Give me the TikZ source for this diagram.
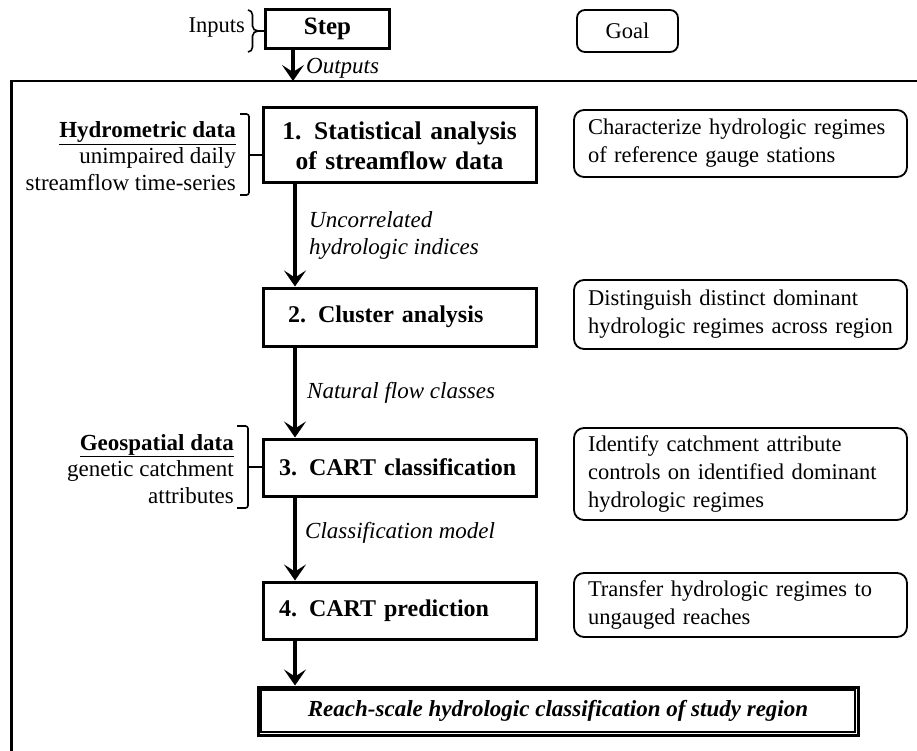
\documentclass[tikz,border=0pt]{standalone}
\usepackage{fontspec}
\setmainfont{Liberation Serif}
\usetikzlibrary{arrows.meta,calc}
\begin{document}
\begin{tikzpicture}[x=1pt,y=-1pt,
  stepbox/.style={draw, line width=3pt, minimum width=273pt, inner xsep=16pt, inner ysep=0pt,
    text width=241pt, align=left, font=\fontsize{24}{30}\selectfont\bfseries},
  goalbox/.style={draw, rounded corners=10pt, line width=1.8pt, minimum width=333pt, inner xsep=14pt, inner ysep=0pt,
    text width=305pt, align=left, font=\fontsize{22.5}{28}\selectfont},
  datatext/.style={anchor=east, align=right, inner sep=0pt, font=\fontsize{23}{26.5}\selectfont},
  flowlabel/.style={anchor=west, align=left, inner sep=0pt, font=\fontsize{23}{27}\selectfont\itshape},
  flow/.style={line width=3.4pt, -{Stealth[length=16pt,width=22pt,inset=7pt]}},
  bracket/.style={line width=1.6pt, rounded corners=2.5pt},
  tick/.style={line width=1.6pt}
]
\useasboundingbox (0,0) rectangle (917,751);

% legend
\node[draw, line width=3pt, minimum width=124pt, minimum height=39pt, inner sep=0pt,
  font=\fontsize{25}{30}\selectfont\bfseries] (st) at (327.5,29) {Step};
\node[draw, rounded corners=8pt, line width=1.8pt, minimum width=101pt, minimum height=42pt, inner sep=0pt,
  font=\fontsize{22.5}{28}\selectfont] (goal) at (627.5,31) {Goal};
\node[anchor=east, inner sep=0pt, font=\fontsize{22.5}{28}\selectfont] (inp) at (245,28) {Inputs};
\coordinate (ibr) at (258,31);
\draw[tick] (248,10) to[out=0,in=90] (252.5,15) -- (252.5,26) to[out=-90,in=180] (ibr)
  to[out=180,in=90] (252.5,36) -- (252.5,47) to[out=-90,in=0] (248,52);
\draw[tick] (ibr) -- (st.west |- ibr);
\coordinate (sax) at (293,0);
\coordinate (frtl) at (11.5,81);
\draw[line width=2.2pt] (917,81) -- (frtl) -- (11.5,751);
\draw[flow] (st.south -| sax) -- (frtl -| sax);
\node[flowlabel] (outl) at (306,68) {Outputs};

% steps
\node[stepbox, align=center, minimum height=75pt, font=\fontsize{25.5}{30}\selectfont\bfseries] (b1) at (399.5,145.5) {\mbox{1. Statistical analysis}\\of streamflow data};
\node[stepbox, minimum height=58pt] (b2) at (399.5,317) {\mbox{\hspace*{9pt}2. Cluster analysis}};
\node[stepbox, minimum height=57pt] (b3) at (399.5,467.5) {\mbox{3. CART classification}};
\node[stepbox, minimum height=57pt] (b4) at (399.5,610.5) {\mbox{4. CART prediction}};

\node[draw, line width=3pt, minimum width=600pt, minimum height=48pt, inner sep=0pt,
  font=\fontsize{23}{27}\selectfont\bfseries\itshape] (fin) at (558,711)
  {Reach-scale hydrologic classification of study region};
\draw[line width=1.2pt] ([shift={(4.5pt,-4.5pt)}]fin.north west) rectangle ([shift={(-4.5pt,4.5pt)}]fin.south east);

% arrows
\coordinate (ax) at (295,0);
\draw[flow] (b1.south -| ax) -- (b2.north -| ax);
\draw[flow] (b2.south -| ax) -- (b3.north -| ax);
\draw[flow] (b3.south -| ax) -- (b4.north -| ax);
\draw[flow] (b4.south -| ax) -- (fin.north -| ax);

\node[flowlabel] (l1) at (309,236) {Uncorrelated\\hydrologic indices};
\node[flowlabel] (l2) at (307,393) {Natural flow classes};
\node[flowlabel] (l3) at (305,533) {Classification model};

% inputs
\node[datatext] (hyd) at (236,156) {\underline{\textbf{Hydrometric data}}\\unimpaired daily\\streamflow time-series};
\coordinate (hbr) at (249,155);
\draw[bracket] (240,114) -- (249,114) -- (249,195) -- (240,195);
\draw[tick] (hbr) -- (b1.west |- hbr);

\node[datatext] (geo) at (234,469) {\underline{\textbf{Geospatial data}}\\genetic catchment\\attributes};
\coordinate (gbr) at (248,467);
\draw[bracket] (237,426) -- (248,426) -- (248,508) -- (237,508);
\draw[tick] (gbr) -- (b3.west |- gbr);

% goals
\node[goalbox, minimum height=67pt] (g1) at (740.5,143.5) {Characterize hydrologic regimes\\of reference gauge stations};
\node[goalbox, minimum height=69pt] (g2) at (740.5,314.5) {Distinguish distinct dominant\\hydrologic regimes across region};
\node[goalbox, minimum height=92pt] (g3) at (740.5,474) {Identify catchment attribute\\controls on identified dominant\\hydrologic regimes};
\node[goalbox, minimum height=64pt] (g4) at (740.5,605) {Transfer hydrologic regimes to\\ungauged reaches};
\end{tikzpicture}
\end{document}
